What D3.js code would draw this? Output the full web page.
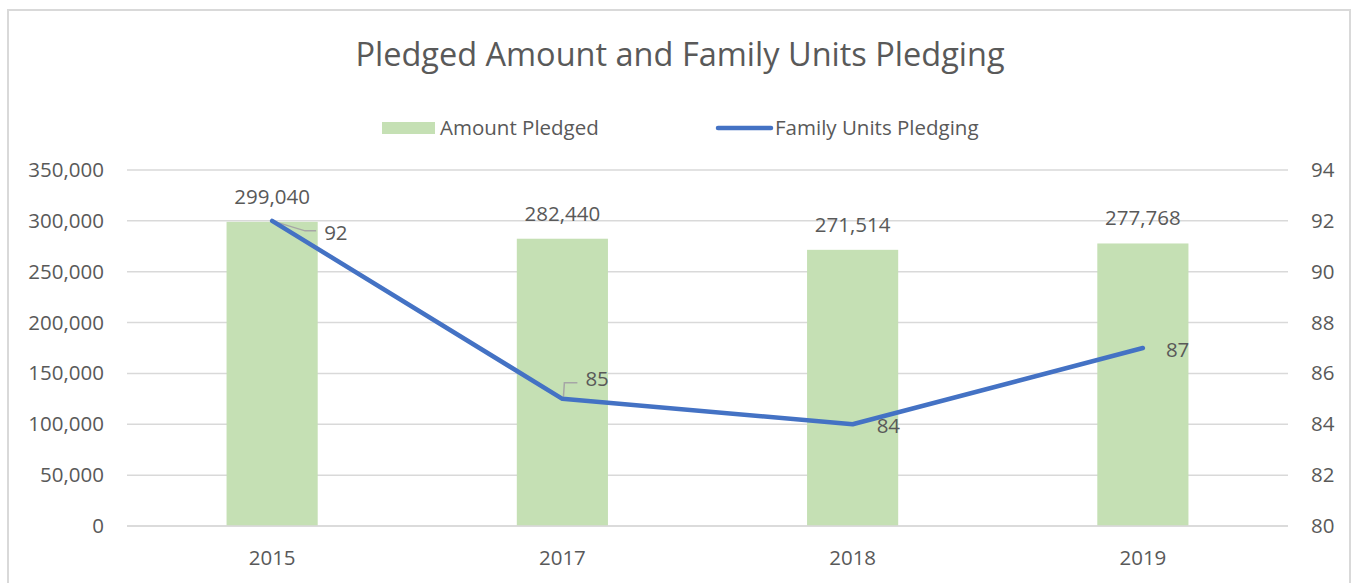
<!DOCTYPE html>
<html>
<head>
<meta charset="utf-8">
<script src="https://cdn.jsdelivr.net/npm/d3@7"></script>
<style>
  body { margin: 0; background: #fff; }
  text { font-family: "Open Sans", sans-serif; fill: #595959; }
</style>
</head>
<body>
<script>
const width = 1353;
const height = 583;

// data
const years = ['2015', '2017', '2018', '2019'];
const amountPledged = [299040, 282440, 271514, 277768];
const familyUnits = [92, 85, 84, 87];
const leftTicks = [0, 50000, 100000, 150000, 200000, 250000, 300000, 350000];
const rightTicks = [80, 82, 84, 86, 88, 90, 92, 94];

const plot = { left: 127, right: 1288, top: 170, bottom: 526 };
const fs = '20.5px';

const svg = d3.select('body')
  .append('svg')
  .attr('width', width)
  .attr('height', height);

// chart border
svg.append('rect')
  .attr('x', 8).attr('y', 10)
  .attr('width', 1342).attr('height', 600)
  .attr('fill', 'none')
  .attr('stroke', '#d9d9d9')
  .attr('stroke-width', 2);

const x = d3.scaleBand()
  .domain(years)
  .range([plot.left, plot.right])
  .paddingInner(0.686)
  .paddingOuter(0.343);

const yLeft = d3.scaleLinear().domain([0, 350000]).range([plot.bottom, plot.top]);
const yRight = d3.scaleLinear().domain([80, 94]).range([plot.bottom, plot.top]);

const fmt = d3.format(',');

// gridlines
svg.append('g')
  .selectAll('line')
  .data(leftTicks)
  .enter().append('line')
  .attr('x1', plot.left).attr('x2', plot.right)
  .attr('y1', d => yLeft(d)).attr('y2', d => yLeft(d))
  .attr('stroke', '#d9d9d9')
  .attr('stroke-width', 1.5);

// left axis
const leftAxis = svg.append('g')
  .attr('transform', `translate(${plot.left},0)`)
  .call(d3.axisLeft(yLeft).tickValues(leftTicks).tickFormat(fmt).tickSize(0).tickPadding(23));
leftAxis.select('.domain').remove();
leftAxis.selectAll('text').style('font-size', fs).attr('fill', '#595959');

// right axis
const rightAxis = svg.append('g')
  .attr('transform', `translate(${plot.right},0)`)
  .call(d3.axisRight(yRight).tickValues(rightTicks).tickSize(0).tickPadding(23));
rightAxis.select('.domain').remove();
rightAxis.selectAll('text').style('font-size', fs).attr('fill', '#595959');

// bottom axis
const bottomAxis = svg.append('g')
  .attr('transform', `translate(0,${plot.bottom})`)
  .call(d3.axisBottom(x).tickSize(0).tickPadding(24));
bottomAxis.select('.domain').remove();
bottomAxis.selectAll('text').style('font-size', fs).attr('fill', '#595959');

// bars
svg.append('g')
  .selectAll('rect')
  .data(years)
  .enter().append('rect')
  .attr('x', d => x(d))
  .attr('width', x.bandwidth())
  .attr('y', (d, i) => yLeft(amountPledged[i]))
  .attr('height', (d, i) => plot.bottom - yLeft(amountPledged[i]))
  .attr('fill', '#c5e0b4');

// zero line on top of bars
svg.append('line')
  .attr('x1', plot.left).attr('x2', plot.right)
  .attr('y1', yLeft(0)).attr('y2', yLeft(0))
  .attr('stroke', '#d9d9d9')
  .attr('stroke-width', 1.5);

// bar labels
svg.append('g')
  .selectAll('text')
  .data(years)
  .enter().append('text')
  .attr('x', d => x(d) + x.bandwidth() / 2)
  .attr('y', (d, i) => yLeft(amountPledged[i]) - 18)
  .attr('text-anchor', 'middle')
  .style('font-size', fs)
  .attr('fill', '#404040')
  .text((d, i) => fmt(amountPledged[i]));

// leader lines for line labels
const cx = d => x(d) + x.bandwidth() / 2;
svg.append('path')
  .attr('d', `M${cx('2015')},${yRight(92)} L${cx('2015') + 33},${yRight(92) + 10} L${cx('2015') + 44},${yRight(92) + 10}`)
  .attr('fill', 'none').attr('stroke', '#a6a6a6').attr('stroke-width', 1.5);
svg.append('path')
  .attr('d', `M${cx('2017') + 1},${yRight(85) - 1} L${cx('2017') + 2},${yRight(85) - 16} L${cx('2017') + 15},${yRight(85) - 16}`)
  .attr('fill', 'none').attr('stroke', '#a6a6a6').attr('stroke-width', 1.5);

// line
const line = d3.line()
  .x((d, i) => cx(years[i]))
  .y(d => yRight(d));

svg.append('path')
  .datum(familyUnits)
  .attr('d', line)
  .attr('fill', 'none')
  .attr('stroke', '#4472c4')
  .attr('stroke-width', 4.5)
  .attr('stroke-linejoin', 'round')
  .attr('stroke-linecap', 'round');

// line labels
const lineLabelOffset = [[52, 19], [23, -13], [24, 9], [23, 9]];
svg.append('g')
  .selectAll('text')
  .data(years)
  .enter().append('text')
  .attr('x', (d, i) => cx(d) + lineLabelOffset[i][0])
  .attr('y', (d, i) => yRight(familyUnits[i]) + lineLabelOffset[i][1])
  .style('font-size', fs)
  .attr('fill', '#404040')
  .text((d, i) => familyUnits[i]);

// title
svg.append('text')
  .attr('x', 680).attr('y', 66)
  .attr('text-anchor', 'middle')
  .style('font-size', '32.5px')
  .attr('fill', '#595959')
  .text('Pledged Amount and Family Units Pledging');

// legend
const legend = svg.append('g');
legend.append('rect')
  .attr('x', 382).attr('y', 122).attr('width', 53).attr('height', 12)
  .attr('fill', '#c5e0b4');
legend.append('text')
  .attr('x', 440).attr('y', 135)
  .style('font-size', fs)
  .text('Amount Pledged');
legend.append('line')
  .attr('x1', 718).attr('x2', 771).attr('y1', 128).attr('y2', 128)
  .attr('stroke', '#4472c4').attr('stroke-width', 4.5).attr('stroke-linecap', 'round');
legend.append('text')
  .attr('x', 775).attr('y', 135)
  .style('font-size', fs)
  .text('Family Units Pledging');
</script>
</body>
</html>
